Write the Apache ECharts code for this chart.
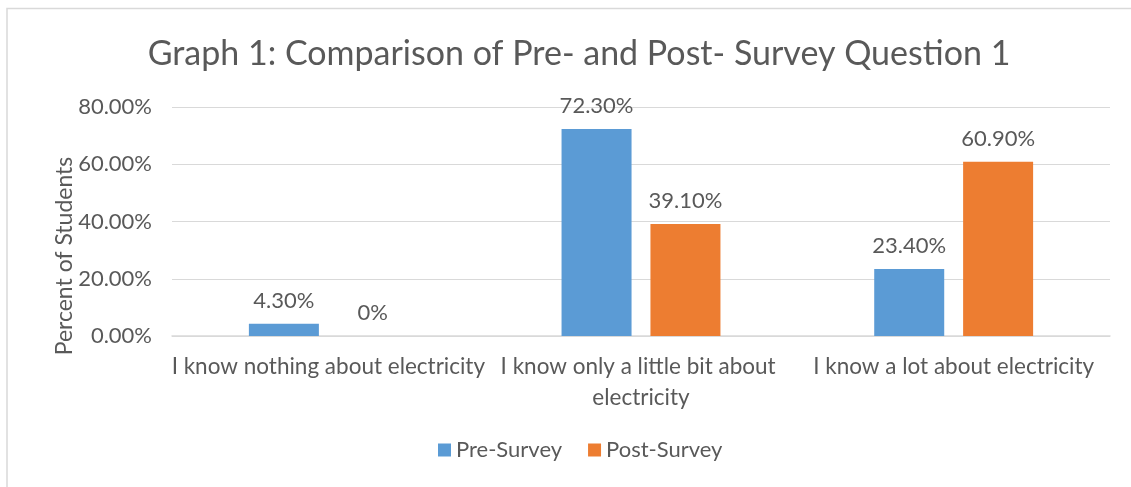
<!DOCTYPE html>
<html lang="en">
<head>
    <meta charset="UTF-8">
    <title>Graph 1</title>
    <script src="https://cdn.jsdelivr.net/npm/echarts@6/dist/echarts.min.js"></script>
    <style>
        html, body { margin: 0; padding: 0; background: #fff; }
    </style>
</head>
<body>
    <div id="chart" style="width:1131px;height:487px;"></div>
    <script>
        // data
        var categories = ['I know nothing about electricity', 'I know only a little bit about electricity', 'I know a lot about electricity'];
        var preSurvey = [4.3, 72.3, 23.4];
        var postSurvey = [0, 39.1, 60.9];
        var seriesNames = ['Pre-Survey', 'Post-Survey'];

        var font = 'Lato, "Open Sans", sans-serif';
        var textColor = '#595959';

        function pct(p) {
            return p.value === 0 ? '0%' : p.value.toFixed(2) + '%';
        }

        var chart = echarts.init(document.getElementById('chart'));

        var option = {
            animation: false,
            title: {
                text: 'Graph 1: Comparison of Pre- and Post- Survey Question 1',
                left: 574,
                textAlign: 'center',
                top: 32,
                textStyle: { fontFamily: font, fontSize: 34, fontWeight: 'normal', color: textColor }
            },
            legend: {
                data: seriesNames,
                bottom: 21,
                left: 433,
                itemWidth: 13,
                itemHeight: 13,
                itemGap: 26,
                icon: 'rect',
                textStyle: { fontFamily: font, fontSize: 22, color: textColor }
            },
            grid: { left: 172, right: 21, top: 107, bottom: 151 },
            xAxis: {
                type: 'category',
                data: categories,
                axisLine: { lineStyle: { color: '#d9d9d9', width: 1.5 } },
                axisTick: { show: false },
                axisLabel: {
                    fontFamily: font, fontSize: 22.5, color: textColor,
                    interval: 0, margin: 15, lineHeight: 31,
                    width: 340, overflow: 'break'
                }
            },
            yAxis: {
                type: 'value',
                min: 0, max: 80, interval: 20,
                axisLine: { show: false },
                axisTick: { show: false },
                splitLine: { lineStyle: { color: '#d9d9d9', width: 1.2 } },
                axisLabel: {
                    fontFamily: font, fontSize: 22, color: textColor, margin: 20,
                    formatter: function (v) { return v.toFixed(2) + '%'; }
                }
            },
            graphic: [
                {
                    type: 'polyline',
                    shape: { points: [[7, 487], [7, 8.5], [1131, 8.5]] },
                    style: { stroke: '#d9d9d9', lineWidth: 1.5, fill: null }
                },
                {
                    type: 'text',
                    x: 65, y: 256,
                    rotation: Math.PI / 2,
                    style: {
                        text: 'Percent of Students',
                        font: '23px ' + font,
                        fill: textColor,
                        align: 'center',
                        verticalAlign: 'middle'
                    }
                }
            ],
            series: [
                {
                    name: seriesNames[0],
                    type: 'bar',
                    data: preSurvey,
                    barWidth: 70,
                    barGap: '27%',
                    itemStyle: { color: '#5b9bd5' },
                    label: {
                        show: true, position: 'top', distance: 12,
                        fontFamily: font, fontSize: 22, color: textColor,
                        formatter: pct
                    }
                },
                {
                    name: seriesNames[1],
                    type: 'bar',
                    data: postSurvey,
                    barWidth: 70,
                    barGap: '27%',
                    itemStyle: { color: '#ed7d31' },
                    label: {
                        show: true, position: 'top', distance: 12,
                        fontFamily: font, fontSize: 22, color: textColor,
                        formatter: pct
                    }
                }
            ]
        };

        chart.setOption(option);
    </script>
</body>
</html>
